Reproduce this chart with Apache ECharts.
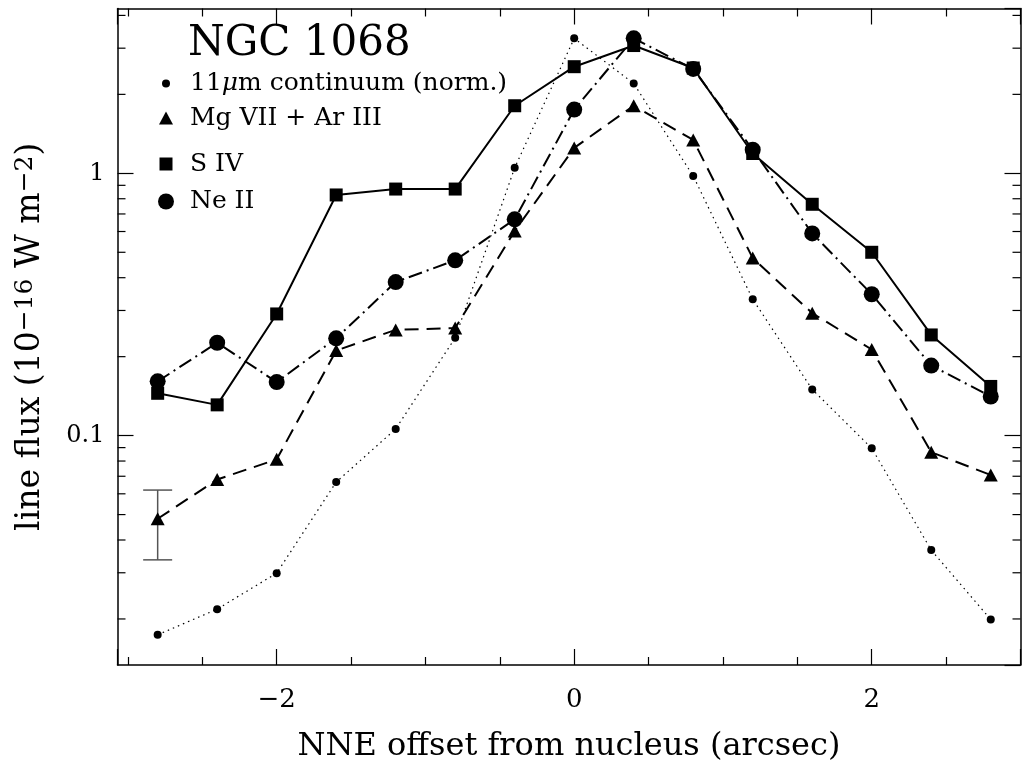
<!DOCTYPE html>
<html>
<head>
<meta charset="utf-8">
<script src="https://cdn.jsdelivr.net/npm/echarts@6/dist/echarts.min.js"></script>
<style>
  html, body { margin: 0; padding: 0; background: #fff; }
  #chart { width: 1027px; height: 764px; }
</style>
</head>
<body>
<div id="chart"></div>
<script>
// Offsets along the NNE slit (arcsec)
const offsets = [-2.8, -2.4, -2.0, -1.6, -1.2, -0.8, -0.4, 0, 0.4, 0.8, 1.2, 1.6, 2.0, 2.4, 2.8];

// Line fluxes (1e-16 W m^-2); continuum is normalised
const continuum = [0.0174, 0.0218, 0.0299, 0.0665, 0.106, 0.236, 1.05, 3.27, 2.20, 0.977, 0.331, 0.150, 0.0895, 0.0366, 0.0199];
const mgArFlux  = [0.0482, 0.0680, 0.0812, 0.211, 0.253, 0.257, 0.603, 1.25, 1.81, 1.34, 0.475, 0.293, 0.213, 0.0865, 0.0708];
const s4Flux    = [0.145, 0.131, 0.291, 0.827, 0.871, 0.871, 1.81, 2.55, 3.07, 2.52, 1.19, 0.762, 0.500, 0.242, 0.154];
const ne2Flux   = [0.161, 0.226, 0.160, 0.235, 0.385, 0.466, 0.668, 1.75, 3.27, 2.50, 1.23, 0.590, 0.346, 0.185, 0.141];

// Representative error bar: [offset, low, high]
const errorBar = [[-2.8, 0.0336, 0.0620]];

const seriesNames = ['11μm continuum (norm.)', 'Mg VII + Ar III', 'S IV', 'Ne II'];
const titleText = 'NGC 1068';
const xTitle = 'NNE offset from nucleus (arcsec)';
const yTitle = 'line flux (10{sup|−16} W m{sup|−2})';

// Axis extents
const xMin = -3.07, xMax = 3.0;
const yMin = 0.01335, yMax = 4.25;

// Log-axis minor tick values
const yMinorTicks = [0.02, 0.03, 0.04, 0.05, 0.06, 0.07, 0.08, 0.09,
                     0.2, 0.3, 0.4, 0.5, 0.6, 0.7, 0.8, 0.9, 2, 3, 4];

const FONT = 'DejaVu Serif';
const pairs = arr => offsets.map((x, i) => [x, arr[i]]);
const minus = v => String(v).replace('-', '\u2212');

const axisLineStyle = { color: '#000', width: 1.5 };
const tickStyle = { color: '#000', width: 1.2 };

function makeX(pos, withLabels) {
  return {
    type: 'value', position: pos, min: xMin, max: xMax, splitNumber: 3,
    axisLine: { show: true, onZero: false, lineStyle: axisLineStyle },
    axisTick: { show: true, inside: true, length: 16, lineStyle: tickStyle },
    minorTick: { show: true, splitNumber: 4, length: 8, lineStyle: tickStyle },
    splitLine: { show: false }, minorSplitLine: { show: false },
    axisLabel: {
      show: withLabels, margin: 22, showMinLabel: false, showMaxLabel: false,
      color: '#000', fontFamily: FONT, fontSize: 26, formatter: minus
    },
    name: withLabels ? xTitle : '', nameLocation: 'middle', nameGap: 66,
    nameTextStyle: { color: '#000', fontFamily: FONT, fontSize: 32 }
  };
}

function makeY(pos, withLabels) {
  return {
    type: 'log', logBase: 10, position: pos, min: yMin, max: yMax,
    axisLine: { show: true, onZero: false, lineStyle: axisLineStyle },
    axisTick: { show: true, inside: true, length: 16, lineStyle: tickStyle },
    splitLine: { show: false },
    axisLabel: {
      show: withLabels, margin: 13, showMinLabel: false, showMaxLabel: false,
      color: '#000', fontFamily: FONT, fontSize: 24
    },
    name: withLabels ? yTitle : '', nameLocation: 'middle', nameGap: 69, nameRotate: 90,
    nameTextStyle: {
      color: '#000', fontFamily: FONT, fontSize: 33, lineHeight: 36,
      rich: { sup: { color: '#000', fontFamily: FONT, fontSize: 25, lineHeight: 36, verticalAlign: 'top' } }
    }
  };
}

// One legend block per series so each marker keeps its own size
const legendMarks = [
  { icon: 'circle', w: 8, h: 8, cy: 82, lift: 7 },
  { icon: 'triangle', w: 14, h: 13, cy: 118, lift: 6 },
  { icon: 'rect', w: 13, h: 13, cy: 163, lift: 5 },
  { icon: 'circle', w: 16, h: 16, cy: 201, lift: 4 }
];
const legendX = 166, legendTextX = 190, legendFont = 25;
const legends = seriesNames.map((name, i) => {
  const m = legendMarks[i];
  return {
    show: true, orient: 'vertical', padding: 0, selectedMode: false,
    left: legendX - m.w / 2, top: m.cy - m.h / 2 - m.lift,
    itemWidth: m.w, itemHeight: m.h,
    data: [{ name: name, icon: m.icon }],
    formatter: n => n.replace('μ', '{mu|μ}'),
    textStyle: {
      color: '#000', fontFamily: FONT, fontSize: legendFont, lineHeight: 8,
      padding: [0, 0, 0, legendTextX - (legendX + m.w / 2 + 5)],
      rich: { mu: { color: '#000', fontFamily: FONT, fontSize: legendFont, lineHeight: 8, fontStyle: 'italic' } }
    }
  };
});

const chart = echarts.init(document.getElementById('chart'), null, { renderer: 'canvas' });

chart.setOption({
  animation: false,
  backgroundColor: '#fff',
  title: {
    text: titleText, left: 188, top: 23, padding: 0,
    textStyle: { color: '#000', fontFamily: FONT, fontSize: 42, fontWeight: 'normal' }
  },
  legend: legends,
  grid: {
    left: 117.5, top: 8.5, right: 6.5, bottom: 99,
    containLabel: false, outerBoundsMode: 'none'
  },
  xAxis: [makeX('bottom', true), makeX('top', false)],
  yAxis: [makeY('left', true), makeY('right', false)],
  series: [
    {
      name: seriesNames[0], type: 'line', data: pairs(continuum),
      symbol: 'circle', symbolSize: 8, color: '#000',
      lineStyle: { color: '#000', width: 1.2, type: [1.5, 4] },
      itemStyle: { color: '#000' }
    },
    {
      name: seriesNames[1], type: 'line', data: pairs(mgArFlux),
      symbol: 'triangle', symbolSize: [14, 13], color: '#000',
      lineStyle: { color: '#000', width: 2, type: [14, 8] },
      itemStyle: { color: '#000' }
    },
    {
      name: seriesNames[2], type: 'line', data: pairs(s4Flux),
      symbol: 'rect', symbolSize: 13, color: '#000',
      lineStyle: { color: '#000', width: 2, type: 'solid' },
      itemStyle: { color: '#000' }
    },
    {
      name: seriesNames[3], type: 'line', data: pairs(ne2Flux),
      symbol: 'circle', symbolSize: 16, color: '#000',
      lineStyle: { color: '#000', width: 2, type: [14, 5, 2, 5] },
      itemStyle: { color: '#000' }
    },
    {
      // error bar with caps
      type: 'custom', silent: true, clip: false,
      data: errorBar, encode: { x: 0, y: [1, 2] },
      renderItem: (params, api) => {
        const lo = api.coord([api.value(0), api.value(1)]);
        const hi = api.coord([api.value(0), api.value(2)]);
        const hw = 14.5;
        const st = { stroke: '#555', lineWidth: 1.5 };
        return {
          type: 'group', children: [
            { type: 'line', shape: { x1: lo[0], y1: lo[1], x2: hi[0], y2: hi[1] }, style: st },
            { type: 'line', shape: { x1: lo[0] - hw, y1: lo[1], x2: lo[0] + hw, y2: lo[1] }, style: st },
            { type: 'line', shape: { x1: hi[0] - hw, y1: hi[1], x2: hi[0] + hw, y2: hi[1] }, style: st }
          ]
        };
      },
      z: 1
    },
    {
      // minor ticks of the logarithmic flux axis, on both sides of the frame
      type: 'custom', silent: true, clip: false,
      data: yMinorTicks.map(v => [xMin, v]), encode: { x: 0, y: 1 },
      renderItem: (params, api) => {
        const p = api.coord([api.value(0), api.value(1)]);
        const cs = params.coordSys;
        const st = { stroke: '#000', lineWidth: 1.2 };
        return {
          type: 'group', children: [
            { type: 'line', shape: { x1: cs.x, y1: p[1], x2: cs.x + 8, y2: p[1] }, style: st },
            { type: 'line', shape: { x1: cs.x + cs.width - 8, y1: p[1], x2: cs.x + cs.width, y2: p[1] }, style: st }
          ]
        };
      }
    }
  ]
});
</script>
</body>
</html>
